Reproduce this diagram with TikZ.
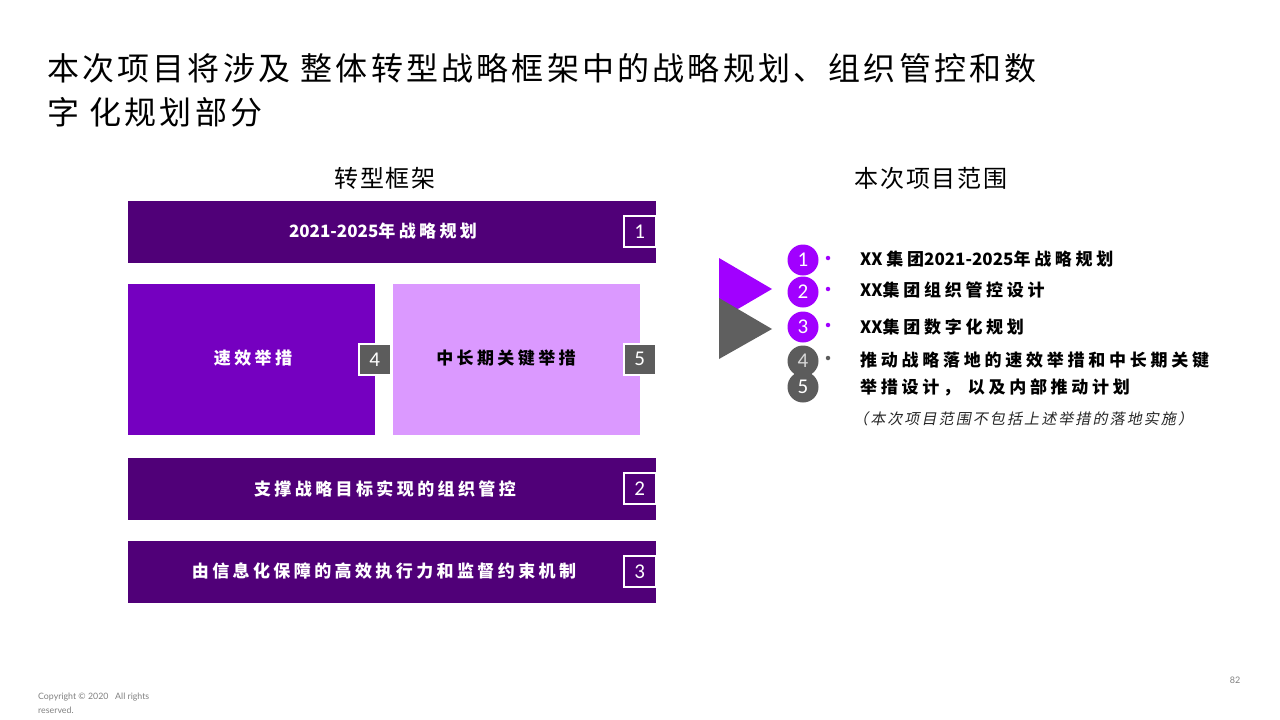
\documentclass[tikz,border=0pt]{standalone}
\usepackage{fontspec}
\setmainfont{Noto Sans CJK SC}
\newfontfamily\cjkit[FakeSlant=0.2]{Noto Sans CJK SC}
\newfontfamily\numf{Carlito}
\newfontfamily\smallf{Lato}
\newcommand\latn[1]{{\addfontfeature{LetterSpace=0}#1}}
\definecolor{dkpurple}{HTML}{500078}
\definecolor{mdpurple}{HTML}{7500C0}
\definecolor{ltpurple}{HTML}{DB99FF}
\definecolor{brpurple}{HTML}{A100FF}
\definecolor{dgray}{HTML}{5C5C5C}
\definecolor{tgray}{HTML}{5F5F5F}
\tikzset{
  barbox/.style={fill=dkpurple, draw=none, anchor=north west, inner sep=0, minimum width=528pt, minimum height=62pt},
  bigbox/.style={draw=none, anchor=north west, inner sep=0, minimum width=247pt, minimum height=151pt},
  bartext/.style={text=white, inner sep=0, font=\fontsize{17}{20}\selectfont\bfseries\addfontfeature{LetterSpace=20}},
  numbox/.style={draw=white, line width=1.6pt, minimum width=32pt, minimum height=31pt, inner sep=0, anchor=north west, text=white, font=\numf\fontsize{21}{21}\selectfont},
  numcirc/.style={circle, minimum size=31pt, inner sep=0, text=white, font=\numf\fontsize{21}{21}\selectfont},
  dot/.style={circle, minimum size=4.5pt, inner sep=0},
  rtext/.style={anchor=west, inner sep=0, font=\fontsize{17}{20}\selectfont\bfseries\addfontfeature{LetterSpace=22}},
  header/.style={inner sep=0, font=\fontsize{24}{28}\selectfont\addfontfeature{LetterSpace=8}},
  titletext/.style={anchor=west, inner sep=0, font=\fontsize{32}{36}\selectfont\addfontfeature{LetterSpace=10}},
  foot/.style={anchor=west, inner sep=0, text=gray, font=\smallf\fontsize{8.8}{10}\selectfont},
}
\begin{document}
\begin{tikzpicture}[x=1pt,y=-1pt]
\useasboundingbox (0,0) rectangle (1280,720);
% title
\node[titletext] (title1) at (47,68) {本次项目将涉及 整体转型战略框架中的战略规划、组织管控和数};
\node[titletext] (title2) at (47,112) {字 化规划部分};
% headers
\node[header] (h1) at (385,178) {转型框架};
\node[header] (h2) at (931,178) {本次项目范围};
% left framework
\node[barbox] (bar1) at (128,201) {};
\node[bartext] (t1) at (383,231) {\latn{2021-2025}年战略规划};
\node[numbox] (n1) at (623,215) {1};
\node[bigbox, fill=mdpurple] (box4) at (128,284) {};
\node[bartext] (t4) at (253,358) {速效举措};
\node[bigbox, fill=ltpurple] (box5) at (393,284) {};
\node[bartext, text=black] (t5) at (506,358) {中长期关键举措};
\node[numbox, fill=dgray] (n4) at (358,343) {4};
\node[numbox, fill=dgray] (n5) at (623,343) {5};
\node[barbox] (bar2) at (128,458) {};
\node[bartext] (t2) at (385,489) {支撑战略目标实现的组织管控};
\node[numbox] (n2) at (623,472) {2};
\node[barbox] (bar3) at (128,541) {};
\node[bartext] (t3) at (384,571) {由信息化保障的高效执行力和监督约束机制};
\node[numbox] (n3) at (623,555) {3};
% right scope
\fill[brpurple] (719,258) -- (772,289) -- (719,320) -- cycle;
\fill[tgray] (719,298) -- (772,329) -- (719,359) -- cycle;
\node[numcirc, fill=brpurple] (c1) at (803,260) {1};
\node[numcirc, fill=brpurple] (c2) at (803,292) {2};
\node[numcirc, fill=brpurple] (c3) at (803,327) {3};
\node[numcirc, fill=dgray, text={rgb,255:red,215;green,215;blue,215}] (c4) at (803,361) {4};
\node[numcirc, fill=dgray] (c5) at (803,387) {5};
\node[dot, fill=brpurple] (d1) at (828,258) {};
\node[dot, fill=brpurple] (d2) at (828,289) {};
\node[dot, fill=brpurple] (d3) at (828,325) {};
\node[dot, fill=dgray] (d4) at (828,358) {};
\node[rtext] (r1) at (860,259) {\latn{XX }集团\latn{2021-2025}年战略规划};
\node[rtext] (r2) at (860,290) {\latn{XX}集团组织管控设计};
\node[rtext] (r3) at (860,327) {\latn{XX}集团数字化规划};
\node[rtext] (r4) at (860,360) {推动战略落地的速效举措和中长期关键};
\node[rtext] (r5) at (860,387) {举措设计， 以及内部推动计划};
\node[anchor=west, inner sep=0, text=black!85, font=\cjkit\fontsize{15}{18}\selectfont\addfontfeature{LetterSpace=14}] (r6) at (853,419) {（本次项目范围不包括上述举措的落地实施）};
% footer
\node[foot] (copy1) at (38,697) {Copyright ©\ 2020\ \ \ All rights};
\node[foot] (copy2) at (38,710) {reserved.};
\node[inner sep=0, text=gray, font=\smallf\fontsize{9}{10}\selectfont] (pg) at (1235,680) {82};
\end{tikzpicture}
\end{document}
